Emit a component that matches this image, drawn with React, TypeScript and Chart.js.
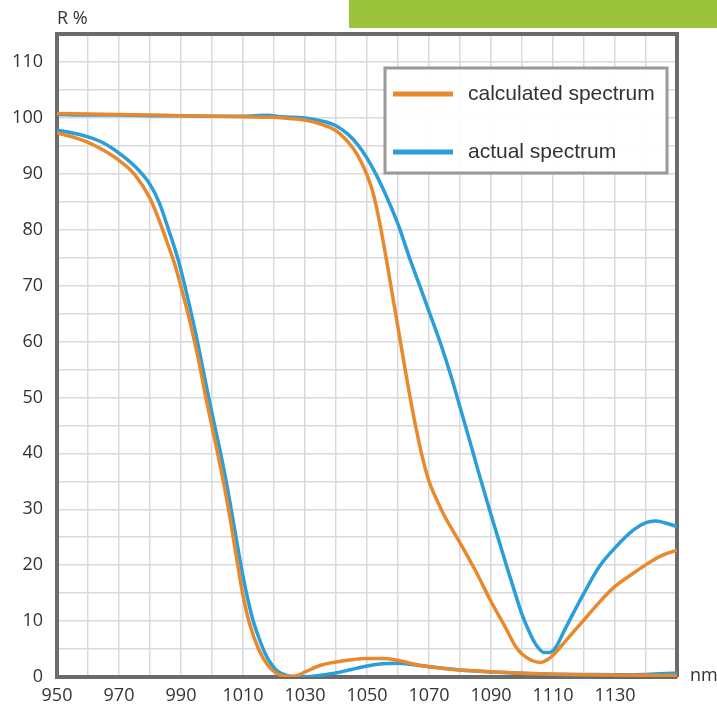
import React, { useEffect, useRef } from "react";
import { Chart, registerables } from "chart.js";

Chart.register(...registerables);

// ---- data (wavelength in nm, reflectance in %) ----
const calcLowNm = [950, 955, 960, 965, 970, 975, 980, 983, 986, 988, 990, 993, 996, 998, 1000, 1002, 1004, 1006, 1008, 1010, 1012, 1015, 1018, 1021, 1024, 1027, 1030, 1035, 1040, 1045, 1050, 1055, 1059, 1063, 1067, 1072, 1080, 1090, 1100, 1110, 1120, 1130, 1140, 1150];
const calcLowR = [97.3, 96.6, 95.6, 94.2, 92.4, 89.9, 85.6, 81.6, 77, 73.8, 69.8, 63.3, 55.8, 50, 44.8, 39.5, 34, 27.8, 21, 14.6, 9.8, 5.0, 2.1, 0.6, 0.15, 0.2, 0.9, 2.1, 2.7, 3.1, 3.3, 3.3, 3.1, 2.6, 2.1, 1.7, 1.25, 0.95, 0.65, 0.5, 0.4, 0.35, 0.3, 0.25];

const calcHighNm = [950, 960, 970, 980, 990, 1000, 1010, 1020, 1025, 1030, 1035, 1040, 1044, 1047, 1050, 1052, 1054, 1056, 1058, 1060, 1062, 1064, 1066, 1068, 1070, 1072, 1075, 1080, 1085, 1090, 1095, 1098, 1100, 1103, 1106, 1108.5, 1110, 1114, 1120, 1125, 1130, 1136, 1140, 1145, 1150];
const calcHighR = [100.8, 100.7, 100.6, 100.5, 100.4, 100.3, 100.2, 100.1, 99.9, 99.6, 98.9, 97.7, 95.6, 93.3, 89.8, 86.5, 81.5, 75.5, 69, 62.5, 56, 49.7, 44, 39, 35, 32.3, 28.8, 24, 19, 13.5, 8.5, 5.4, 4.1, 3.0, 2.6, 3.2, 3.9, 6.4, 10.2, 13.4, 16.2, 18.6, 20.1, 21.7, 22.7];

const actualLowNm = [950, 955, 960, 965, 970, 975, 980, 983, 986, 989, 991, 993, 995, 997, 999, 1001, 1003, 1005, 1007, 1009, 1011, 1013, 1015, 1017, 1019, 1021, 1024, 1027, 1030, 1035, 1040, 1045, 1050, 1055, 1060, 1065, 1070, 1080, 1090, 1100, 1110, 1120, 1130, 1140, 1150];
const actualLowR = [97.8, 97.3, 96.6, 95.5, 93.7, 91.4, 88.1, 84.8, 80, 74.8, 70.5, 65.8, 60.8, 55.3, 49.8, 44.6, 39.4, 33.7, 27.4, 21, 15.3, 10.6, 7.2, 4.4, 2.4, 1.1, 0.3, 0.05, 0.05, 0.3, 0.7, 1.35, 1.95, 2.35, 2.45, 2.2, 1.85, 1.25, 0.9, 0.65, 0.5, 0.45, 0.4, 0.45, 0.7];

const actualHighNm = [950, 960, 970, 980, 990, 1000, 1010, 1018, 1022, 1030, 1035, 1040, 1044, 1047, 1050, 1053, 1056, 1060, 1064, 1067, 1070, 1074, 1077, 1080, 1083, 1086, 1090, 1095, 1098, 1100, 1103, 1105, 1107, 1109, 1111, 1114, 1120, 1125, 1130, 1136, 1140, 1143, 1146, 1150];
const actualHighR = [100.6, 100.5, 100.5, 100.4, 100.4, 100.3, 100.3, 100.45, 100.2, 100, 99.5, 98.6, 97, 95.2, 92.8, 89.8, 86.3, 81, 74.5, 70, 65.4, 59.2, 54, 48.3, 42.5, 36.6, 29, 19.9, 14.6, 11.2, 7.3, 5.4, 4.4, 4.4, 5.4, 8.7, 15, 19.8, 23.1, 26.3, 27.6, 27.9, 27.6, 26.9];

const seriesNames = ["calculated spectrum", "actual spectrum"];
const seriesColors = ["#e8892e", "#2a9ed8"];

const xMin = 950;
const xMax = 1150;
const yMin = 0;
const yMax = 115;
const yLabel = "R %";
const xLabel = "nm";

const toPts = (xs: number[], ys: number[]) => xs.map((x, i) => ({ x, y: ys[i] }));

const TICK_FONT = { family: "'Open Sans', 'DejaVu Sans', sans-serif", size: 18 };

const extrasPlugin = {
  id: "extras",
  beforeDatasetsDraw(chart: any) {
    const { ctx, chartArea } = chart;
    ctx.save();
    ctx.strokeStyle = "#6b6b6b";
    ctx.lineWidth = 4;
    ctx.beginPath();
    ctx.moveTo(chartArea.left, chartArea.top);
    ctx.lineTo(chartArea.right, chartArea.top);
    ctx.lineTo(chartArea.right, chartArea.bottom);
    ctx.stroke();
    ctx.restore();
  },
  afterDraw(chart: any) {
    const { ctx, chartArea } = chart;
    ctx.save();
    // green header bar
    ctx.fillStyle = "#9bc43b";
    ctx.fillRect(349, 0, 368, 28);
    // axis titles
    ctx.fillStyle = "#333";
    ctx.font = "18px 'Open Sans', sans-serif";
    ctx.textBaseline = "middle";
    ctx.textAlign = "left";
    ctx.fillText(yLabel, chartArea.left, 19);
    ctx.fillText(xLabel, chartArea.right + 13, chartArea.bottom - 1);
    // legend box
    const bx = 385, by = 68, bw = 282, bh = 105;
    ctx.fillStyle = "rgba(255,255,255,0.95)";
    ctx.fillRect(bx, by, bw, bh);
    ctx.strokeStyle = "#9a9a9a";
    ctx.lineWidth = 3;
    ctx.strokeRect(bx, by, bw, bh);
    const rows = [94, 152];
    ctx.font = "21px 'Liberation Sans', Arial, sans-serif";
    seriesNames.forEach((name, i) => {
      ctx.strokeStyle = seriesColors[i];
      ctx.lineWidth = 5;
      ctx.beginPath();
      ctx.moveTo(393, rows[i]);
      ctx.lineTo(453, rows[i]);
      ctx.stroke();
      ctx.fillStyle = "#333";
      ctx.fillText(name, 468, rows[i]);
    });
    ctx.restore();
  },
};

export default function App() {
  const ref = useRef<HTMLCanvasElement>(null);
  useEffect(() => {
    const ds = (xs: number[], ys: number[], color: string, label: string) => ({
      label,
      data: toPts(xs, ys),
      borderColor: color,
      backgroundColor: color,
      borderWidth: 3.5,
      pointRadius: 0,
      cubicInterpolationMode: "monotone" as const,
      fill: false,
    });
    const chart = new Chart(ref.current!, {
      type: "line",
      data: {
        datasets: [
          ds(calcLowNm, calcLowR, seriesColors[0], seriesNames[0]),
          ds(calcHighNm, calcHighR, seriesColors[0], seriesNames[0]),
          ds(actualLowNm, actualLowR, seriesColors[1], seriesNames[1]),
          ds(actualHighNm, actualHighR, seriesColors[1], seriesNames[1]),
        ],
      },
      options: {
        animation: false,
        responsive: false,
        maintainAspectRatio: false,
        layout: { padding: { left: 0, top: 34, right: 40, bottom: 0 } },
        plugins: { legend: { display: false }, tooltip: { enabled: false } },
        scales: {
          x: {
            type: "linear",
            min: xMin,
            max: xMax,
            afterFit: (s: any) => { s.height = 28; },
            ticks: {
              stepSize: 10,
              autoSkip: false,
              maxRotation: 0,
              padding: 8,
              color: "#333",
              font: TICK_FONT,
              callback: (v: any) => (v % 20 === 10 && v < xMax ? String(v) : ""),
            },
            grid: { color: "#d9d9d9", lineWidth: 1.5, drawTicks: false },
            border: { display: true, color: "#6b6b6b", width: 4 },
          },
          y: {
            type: "linear",
            min: yMin,
            max: yMax,
            afterFit: (s: any) => { s.width = 57; },
            ticks: {
              stepSize: 5,
              autoSkip: false,
              padding: 14,
              color: "#333",
              font: TICK_FONT,
              callback: (v: any) => (v % 10 === 0 && v <= 110 ? String(v) : ""),
            },
            grid: { color: "#d9d9d9", lineWidth: 1.5, drawTicks: false },
            border: { display: true, color: "#6b6b6b", width: 4 },
          },
        },
      },
      plugins: [extrasPlugin],
    });
    return () => chart.destroy();
  }, []);
  return (
    <div style={{ position: "fixed", left: 0, top: 0, width: 717, height: 705, background: "#fff" }}>
      <canvas ref={ref} width={717} height={705} style={{ width: 717, height: 705 }} />
    </div>
  );
}
